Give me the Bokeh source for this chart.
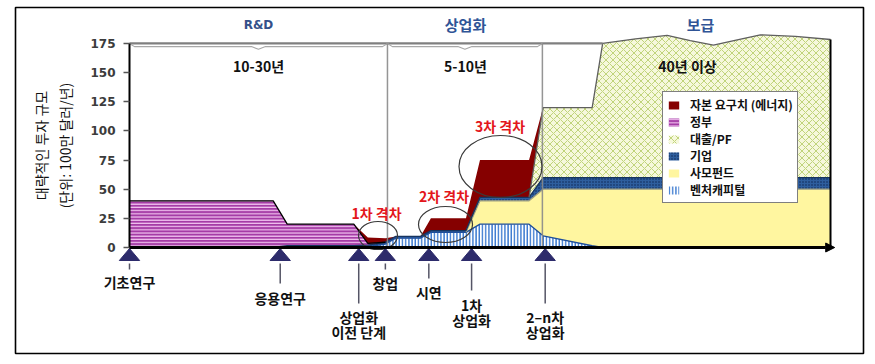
import numpy as np
from bokeh.plotting import figure
from bokeh.models import (Range1d, LinearAxis, FixedTicker, Legend, LegendItem,
                          Arrow, NormalHead)
from bokeh.core.properties import value
from bokeh.embed import file_html
from bokeh.resources import INLINE

# ---------------- data ----------------
# time axis (arbitrary units, 0 = 기초연구, 100 = right end)
X_TIME = [0, 20.5, 22.5, 32, 34, 36.5, 38, 41.5, 43, 48, 50, 57, 59, 66, 67.5,
          72.2, 76.7, 80, 83.3, 86.7, 90, 95, 100]
# layer thicknesses (million USD / year), stacked bottom -> top
VENTURE = [0, 0, 0, 0, 0.5, 3, 8, 8, 13, 13, 20, 20, 10, 1.5, 0,
           0, 0, 0, 0, 0, 0, 0, 0]
PRIVATE_EQUITY = [0, 0, 0, 0, 0, 0, 0, 0, 0, 0, 20, 20, 40, 48.5, 50,
                  50, 50, 50, 50, 50, 50, 50, 50]
CORPORATE = [0, 0, 1.5, 1.5, 1.5, 1.5, 1.5, 1.5, 1.5, 1.5, 3, 3, 10, 10, 10,
             10, 10, 10, 10, 10, 10, 10, 10]
DEBT_PF = [0, 0, 0, 0, 0, 0, 0, 0, 0, 0, 0, 0, 60, 60, 115,
           119, 122, 117.5, 113.5, 118, 122.4, 121, 118.4]
GOVERNMENT = [40, 40, 18.5, 18.5, 1.5, 0, 0, 0, 0, 0, 0, 0, 0, 0, 0,
              0, 0, 0, 0, 0, 0, 0, 0]
CAPITAL_GAP = [0, 0, 0, 0, 5, 3.5, 0, 0, 10.5, 10.5, 32, 32, 0, 0, 0,
               0, 0, 0, 0, 0, 0, 0, 0]

Y_TICKS = [0, 25, 50, 75, 100, 125, 150, 175]
Y_TOP = 175

STAGE_X = [0, 21.5, 32.7, 36.5, 42.7, 48.8, 59.3]
STAGE_LABELS = ["기초연구", "응용연구", "상업화\n이전 단계", "창업", "시연",
                "1차\n상업화", "2–n차\n상업화"]

SECTION_BOUNDS = [0, 36.8, 58.9, 100]
SECTION_NAMES = ["R&D", "상업화", "보급"]
SECTION_PERIODS = ["10-30년", "5-10년", "40년 이상"]
GAP_LABELS = ["1차 격차", "2차 격차", "3차 격차"]

LEGEND_ORDER = ["자본 요구치 (에너지)", "정부", "대출/PF", "기업", "사모펀드", "벤처캐피털"]

# ---------------- layout helpers (pixel -> data) ----------------
def gx(px):
    return (px - 129) / 7.01


def gy(py):
    return (247 - py) / 1.166


KR = value("Noto Sans CJK KR")

p = figure(width=875, height=364, output_backend="svg", toolbar_location=None,
           x_range=Range1d(gx(15), gx(863)), y_range=Range1d(gy(353), gy(7)),
           x_axis_location=None, y_axis_location=None,
           min_border_left=15, min_border_right=12, min_border_top=7,
           min_border_bottom=11)
p.grid.visible = False
p.outline_line_color = "black"
p.outline_line_width = 1.6
p.background_fill_color = "white"
p.border_fill_color = "white"

# ---------------- stacked areas ----------------
layers = [
    ("벤처캐피털", VENTURE,
     dict(fill_color="white", hatch_pattern="vertical_line", hatch_color="#3a79cf",
          hatch_scale=3.2, hatch_weight=1.6), "#1f4e9a"),
    ("사모펀드", PRIVATE_EQUITY, dict(fill_color="#fff6a0"), "#a0a080"),
    ("기업", CORPORATE,
     dict(fill_color="#2e5e9e", hatch_pattern="dot", hatch_color="#0c2450",
          hatch_scale=3, hatch_weight=1.4), "#17345f"),
    ("대출/PF", DEBT_PF,
     dict(fill_color="#f6f8dc", hatch_pattern="diagonal_cross", hatch_color="#b3ca62",
          hatch_scale=7, hatch_weight=0.8), "#5f5f5f"),
    ("정부", GOVERNMENT,
     dict(fill_color="#a53ca6", hatch_pattern="horizontal_line", hatch_color="#f3c6f1",
          hatch_scale=3.2, hatch_weight=1.2), "black"),
    ("자본 요구치 (에너지)", CAPITAL_GAP, dict(fill_color="#850000"), None),
]

n = len(X_TIME)
base = np.zeros(n)
renderers = {}
edges = []
for name, vals, style, edge in layers:
    v = np.array(vals, dtype=float)
    top = base + v
    renderers[name] = p.varea(x=X_TIME, y1=base.tolist(), y2=top.tolist(), **style)
    if edge is not None:
        keep = np.zeros(n, dtype=bool)
        for i in range(n):
            if v[i] > 0 or (i > 0 and v[i - 1] > 0) or (i < n - 1 and v[i + 1] > 0):
                keep[i] = True
        ys = np.where(keep, top, np.nan)
        edges.append((ys, edge))
    base = top
total = base

for ys, col in edges:
    p.line(x=X_TIME, y=ys.tolist(), line_color=col, line_width=1.3)

# right edge of the area
p.segment(x0=[X_TIME[-1]], y0=[0], x1=[X_TIME[-1]], y1=[total[-1]],
          line_color="black", line_width=2)

# ---------------- section frame ----------------
wave_start = X_TIME[14]
p.line(x=[0, wave_start], y=[Y_TOP, Y_TOP], line_color="#7f7f7f", line_width=2.2)
brace_xs, brace_ys = [], []
for x0, x1 in zip(SECTION_BOUNDS[:2], SECTION_BOUNDS[1:3]):
    xm = (x0 + x1) / 2
    brace_xs.append([x0, x0 + 0.7, xm - 1, xm, xm + 1, x1 - 0.7, x1])
    brace_ys.append([Y_TOP, Y_TOP - 2.7, Y_TOP - 2.7, Y_TOP - 5, Y_TOP - 2.7, Y_TOP - 2.7, Y_TOP])
p.multi_line(xs=brace_xs, ys=brace_ys, line_color="#a8a8a8", line_width=1.1)

div_x = SECTION_BOUNDS[1:3]
p.segment(x0=div_x, y0=[0] * 2, x1=div_x, y1=[Y_TOP] * 2,
          line_color="#8a8a8a", line_width=1.5, line_alpha=0.9)

# section headers and durations
header_px = [258, 465, 700]
period_px = [258, 465, 687]
p.text(x=[gx(header_px[0])], y=[gy(24)], text=[SECTION_NAMES[0]],
       text_font=value("DejaVu Sans"), text_font_style="bold", text_font_size="12px",
       text_color="#34508a", text_align="center", text_baseline="middle")
p.text(x=[gx(v) for v in header_px[1:]], y=[gy(24)] * 2, text=SECTION_NAMES[1:],
       text_font=KR, text_font_style="bold", text_font_size="15px",
       text_color="#2f5496", text_align="center", text_baseline="middle")
p.text(x=[gx(v) for v in period_px], y=[gy(65)] * 3, text=SECTION_PERIODS,
       text_font=KR, text_font_style="bold", text_font_size="14px",
       text_color="#111111", text_align="center", text_baseline="middle")

# ---------------- gap circles and labels ----------------
p.ellipse(x=[gx(377.5), gx(445), gx(500)], y=[gy(235), gy(224), gy(166)],
          width=[39 / 7.01, 54 / 7.01, 83 / 7.01],
          height=[28 / 1.166, 36 / 1.166, 62 / 1.166],
          fill_color=None, line_color="#3a3a3a", line_width=1.2)
p.text(x=[gx(376), gx(443.5), gx(499.5)], y=[gy(212.5), gy(195), gy(125)],
       text=GAP_LABELS, text_font=KR, text_font_style="bold", text_font_size="14px",
       text_color="#e3161b", text_align="center", text_baseline="middle")

# ---------------- x baseline with arrow ----------------
p.add_layout(Arrow(end=NormalHead(size=9, fill_color="black", line_color="black"),
                   x_start=0, y_start=0, x_end=100.6, y_end=0,
                   line_width=3, line_color="black"))

# ---------------- stages ----------------
tri_xs = [[sx - 1.45, sx + 1.45, sx] for sx in STAGE_X]
tri_ys = [[gy(260), gy(260), gy(248)] for _ in STAGE_X]
p.patches(xs=tri_xs, ys=tri_ys, fill_color="#2d2b6b", line_color="#2d2b6b")

line_end_py = [269, 283, 303, 269, 278, 290, 303]
label_py = [281, 297.5, 316.5, 282.5, 291, 304.5, 316.5]
p.segment(x0=STAGE_X, y0=[gy(263)] * len(STAGE_X), x1=STAGE_X,
          y1=[gy(v) for v in line_end_py], line_color="#555566", line_width=1.5)
tx, ty, tt = [], [], []
for sx, lab, py in zip(STAGE_X, STAGE_LABELS, label_py):
    for k, part in enumerate(lab.split("\n")):
        tx.append(sx)
        ty.append(gy(py + 15 * k))
        tt.append(part)
p.text(x=tx, y=ty, text=tt, text_font=KR, text_font_style="bold",
       text_font_size="14px", text_color="#111111", text_align="center",
       text_baseline="middle")

# ---------------- y axis ----------------
yaxis = LinearAxis(fixed_location=0, ticker=FixedTicker(ticks=Y_TICKS), bounds=(0, Y_TOP),
                   axis_label="대략적인 투자 규모\n(단위: 100만 달러/년)")
yaxis.axis_line_color = "black"
yaxis.axis_line_width = 2
yaxis.major_tick_out = 6
yaxis.major_tick_in = 0
yaxis.major_tick_line_color = "#555555"
yaxis.major_tick_line_width = 1.5
yaxis.minor_tick_out = 0
yaxis.minor_tick_in = 0
yaxis.major_label_standoff = 8
yaxis.major_label_text_font = "DejaVu Sans"
yaxis.major_label_text_font_style = "bold"
yaxis.major_label_text_font_size = "12px"
yaxis.major_label_text_color = "#3c3c3c"
yaxis.axis_label_text_font = "Noto Sans CJK KR"
yaxis.axis_label_text_font_style = "normal"
yaxis.axis_label_text_font_size = "14px"
yaxis.axis_label_text_color = "#111111"
yaxis.axis_label_standoff = 12
p.add_layout(yaxis, "left")

# ---------------- legend ----------------
legend = Legend(items=[LegendItem(label=lab, renderers=[renderers[lab]]) for lab in LEGEND_ORDER],
                location=(647, 150), padding=4, spacing=0, label_height=17,
                glyph_width=13, glyph_height=10, label_standoff=10, margin=0,
                border_line_color="black", border_line_width=1.5,
                background_fill_color="white", background_fill_alpha=1,
                label_text_font="Noto Sans CJK KR", label_text_font_style="bold",
                label_text_font_size="12px", label_text_color="#111111")
p.add_layout(legend)

open("out.html", "w").write(file_html(p, INLINE))
